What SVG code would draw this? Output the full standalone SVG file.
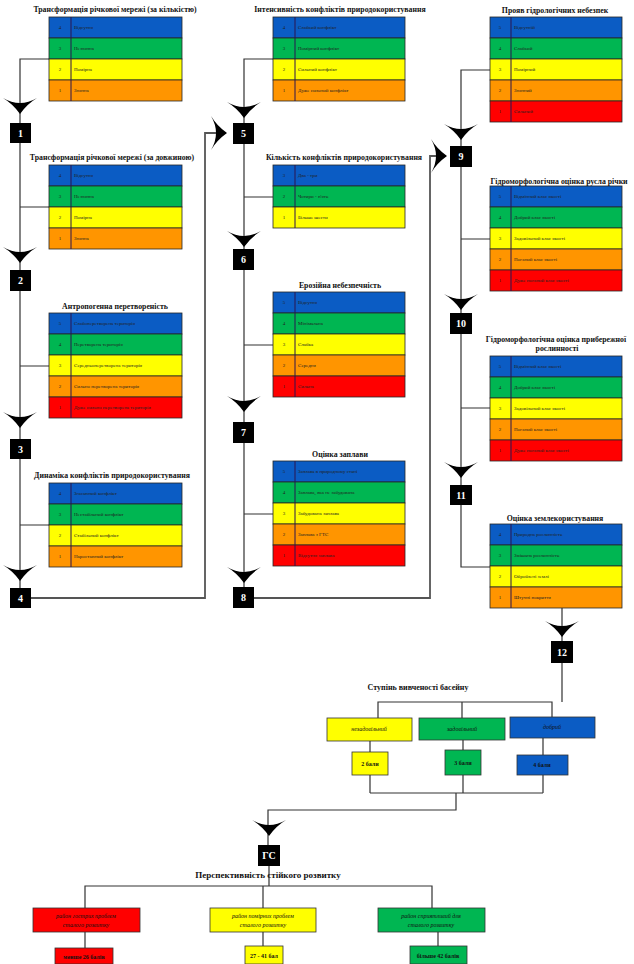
<svg xmlns="http://www.w3.org/2000/svg" xmlns:xlink="http://www.w3.org/1999/xlink" width="634" height="964" viewBox="0 0 634 964">
<style>
.b{fill:#0b5cc4}.g{fill:#00b652}.y{fill:#ffff00}.o{fill:#ff9500}.r{fill:#ff0000}
.row{stroke:#262626;stroke-width:0.8}
.div{stroke:#2a1450;stroke-width:1}
.h{font-family:"Liberation Serif",serif;font-weight:bold;font-size:7.8px;fill:#111;text-anchor:middle}
.n{font-family:"Liberation Serif",serif;font-size:5px;fill:#222;text-anchor:middle}
.t{font-family:"Liberation Serif",serif;font-size:5px;fill:#222}
.box{fill:#000}
.bn{font-family:"Liberation Serif",serif;font-weight:bold;font-size:10px;fill:#fff;text-anchor:middle}
.ln{fill:none;stroke:#333;stroke-width:1.2}
.lg{fill:none;stroke:#555;stroke-width:1.8}
.cat{font-family:"Liberation Serif",serif;font-style:italic;font-size:6px;fill:#111;text-anchor:middle}
.sb{font-family:"Liberation Serif",serif;font-weight:bold;font-size:6px;fill:#111;text-anchor:middle}
.cb{stroke:#333;stroke-width:0.8}
</style>
<defs>
<path id="ad" d="M-17,0 Q0,10 17,0 Q7,6 0,16 Q-7,6 -17,0Z" fill="#000"/>
<path id="ar" d="M0,-17 Q10,0 0,17 Q6,7 16,0 Q6,-7 0,-17Z" fill="#000"/>
</defs>

<g id="connectors">
<path class="ln" d="M49,59 H20 V588 M49,207 H20 M49,366 H20 M49,525 H20"/>
<path class="lg" d="M31,598 H205 V133 H226"/>
<path class="ln" d="M273,59 H244 V587 M273,197 H244 M273,345 H244 M273,514 H244"/>
<path class="lg" d="M254,598 H430 V156 H446"/>
<path class="ln" d="M490,70 H461 V485 M490,239 H461 M490,408 H461 M461,505 V567 H490"/>
<path class="ln" d="M562,608 V641 M562,663 V702 M378,718 V702 H552 V717 M462,702 V718"/>
<path class="ln" d="M370,741 V752 M463,740 V750 M543,738 V755 M370,775 V793 M463,775 V793 M543,775 V793 M370,793 H543 M456,793 V810 H268 V845"/>
<path class="ln" d="M269,866 V886 M85,908 V886 H432 V908 M263,886 V908 M85,932 V948 M263,932 V946 M438,932 V946"/>
<use xlink:href="#ad" x="20" y="98"/>
<use xlink:href="#ad" x="20" y="247"/>
<use xlink:href="#ad" x="20" y="412"/>
<use xlink:href="#ad" x="20" y="565"/>
<use xlink:href="#ad" x="244" y="102"/>
<use xlink:href="#ad" x="244" y="231"/>
<use xlink:href="#ad" x="244" y="396"/>
<use xlink:href="#ad" x="244" y="567"/>
<use xlink:href="#ad" x="461" y="124"/>
<use xlink:href="#ad" x="461" y="294"/>
<use xlink:href="#ad" x="461" y="462"/>
<use xlink:href="#ad" x="562" y="621"/>
<use xlink:href="#ad" x="269" y="820"/>
<use xlink:href="#ar" x="211" y="133"/>
<use xlink:href="#ar" x="431" y="156"/>
</g>

<!-- column 1 -->
<g id="t1">
<text class="h" x="115" y="12">Трансформація річкової мережі (за кількістю)</text>
<rect class="b row" x="49" y="17" width="133" height="21"/><rect class="g row" x="49" y="38" width="133" height="21"/><rect class="y row" x="49" y="59" width="133" height="21"/><rect class="o row" x="49" y="80" width="133" height="21"/>
<line class="div" x1="71" y1="17" x2="71" y2="101"/>
<text class="n" x="60" y="29">4</text><text class="t" x="74" y="29">Відсутня</text>
<text class="n" x="60" y="50">3</text><text class="t" x="74" y="50">Незначна</text>
<text class="n" x="60" y="71">2</text><text class="t" x="74" y="71">Помірна</text>
<text class="n" x="60" y="92">1</text><text class="t" x="74" y="92">Значна</text>
</g>
<g id="t2">
<text class="h" x="112" y="160">Трансформація річкової мережі (за довжиною)</text>
<rect class="b row" x="49" y="165" width="133" height="21"/><rect class="g row" x="49" y="186" width="133" height="21"/><rect class="y row" x="49" y="207" width="133" height="21"/><rect class="o row" x="49" y="228" width="133" height="21"/>
<line class="div" x1="71" y1="165" x2="71" y2="249"/>
<text class="n" x="60" y="177">4</text><text class="t" x="74" y="177">Відсутня</text>
<text class="n" x="60" y="198">3</text><text class="t" x="74" y="198">Незначна</text>
<text class="n" x="60" y="219">2</text><text class="t" x="74" y="219">Помірна</text>
<text class="n" x="60" y="240">1</text><text class="t" x="74" y="240">Значна</text>
</g>
<g id="t3">
<text class="h" x="115" y="309">Антропогенна перетвореність</text>
<rect class="b row" x="49" y="313" width="133" height="21"/><rect class="g row" x="49" y="334" width="133" height="21"/><rect class="y row" x="49" y="355" width="133" height="21"/><rect class="o row" x="49" y="376" width="133" height="21"/><rect class="r row" x="49" y="397" width="133" height="21"/>
<line class="div" x1="71" y1="313" x2="71" y2="418"/>
<text class="n" x="60" y="325">5</text><text class="t" x="74" y="325">Слабоперетворена територія</text>
<text class="n" x="60" y="346">4</text><text class="t" x="74" y="346">Перетворена територія</text>
<text class="n" x="60" y="367">3</text><text class="t" x="74" y="367">Середньоперетворена територія</text>
<text class="n" x="60" y="388">2</text><text class="t" x="74" y="388">Сильно перетворена територія</text>
<text class="n" x="60" y="409">1</text><text class="t" x="74" y="409">Дуже сильно перетворена територія</text>
</g>
<g id="t4">
<text class="h" x="112" y="478">Динаміка конфліктів природокористування</text>
<rect class="b row" x="49" y="483" width="133" height="21"/><rect class="g row" x="49" y="504" width="133" height="21"/><rect class="y row" x="49" y="525" width="133" height="21"/><rect class="o row" x="49" y="546" width="133" height="21"/>
<line class="div" x1="71" y1="483" x2="71" y2="567"/>
<text class="n" x="60" y="495">4</text><text class="t" x="74" y="495">Згасаючий конфлікт</text>
<text class="n" x="60" y="516">3</text><text class="t" x="74" y="516">Нестабільний конфлікт</text>
<text class="n" x="60" y="537">2</text><text class="t" x="74" y="537">Стабільний конфлікт</text>
<text class="n" x="60" y="558">1</text><text class="t" x="74" y="558">Наростаючий конфлікт</text>
</g>

<!-- column 2 -->
<g id="t5">
<text class="h" x="340" y="12">Інтенсивність конфліктів природокористування</text>
<rect class="b row" x="273" y="17" width="132" height="21"/><rect class="g row" x="273" y="38" width="132" height="21"/><rect class="y row" x="273" y="59" width="132" height="21"/><rect class="o row" x="273" y="80" width="132" height="21"/>
<line class="div" x1="295" y1="17" x2="295" y2="101"/>
<text class="n" x="284" y="29">4</text><text class="t" x="298" y="29">Слабкий конфлікт</text>
<text class="n" x="284" y="50">3</text><text class="t" x="298" y="50">Помірний конфлікт</text>
<text class="n" x="284" y="71">2</text><text class="t" x="298" y="71">Сильний конфлікт</text>
<text class="n" x="284" y="92">1</text><text class="t" x="298" y="92">Дуже сильний конфлікт</text>
</g>
<g id="t6">
<text class="h" x="344" y="160">Кількість конфліктів природокористування</text>
<rect class="b row" x="273" y="165" width="132" height="21"/><rect class="g row" x="273" y="186" width="132" height="21"/><rect class="y row" x="273" y="207" width="132" height="21"/>
<line class="div" x1="295" y1="165" x2="295" y2="228"/>
<text class="n" x="284" y="177">3</text><text class="t" x="298" y="177">Два - три</text>
<text class="n" x="284" y="198">2</text><text class="t" x="298" y="198">Чотири - п'ять</text>
<text class="n" x="284" y="219">1</text><text class="t" x="298" y="219">Більше шести</text>
</g>
<g id="t7">
<text class="h" x="340" y="288">Ерозійна небезпечність</text>
<rect class="b row" x="273" y="292" width="132" height="21"/><rect class="g row" x="273" y="313" width="132" height="21"/><rect class="y row" x="273" y="334" width="132" height="21"/><rect class="o row" x="273" y="355" width="132" height="21"/><rect class="r row" x="273" y="376" width="132" height="21"/>
<line class="div" x1="295" y1="292" x2="295" y2="397"/>
<text class="n" x="284" y="304">5</text><text class="t" x="298" y="304">Відсутня</text>
<text class="n" x="284" y="325">4</text><text class="t" x="298" y="325">Мінімальна</text>
<text class="n" x="284" y="346">3</text><text class="t" x="298" y="346">Слабка</text>
<text class="n" x="284" y="367">2</text><text class="t" x="298" y="367">Середня</text>
<text class="n" x="284" y="388">1</text><text class="t" x="298" y="388">Сильна</text>
</g>
<g id="t8">
<text class="h" x="340" y="457">Оцінка заплави</text>
<rect class="b row" x="273" y="461" width="132" height="21"/><rect class="g row" x="273" y="482" width="132" height="21"/><rect class="y row" x="273" y="503" width="132" height="21"/><rect class="o row" x="273" y="524" width="132" height="21"/><rect class="r row" x="273" y="545" width="132" height="21"/>
<line class="div" x1="295" y1="461" x2="295" y2="566"/>
<text class="n" x="284" y="473">5</text><text class="t" x="298" y="473">Заплава в природному стані</text>
<text class="n" x="284" y="494">4</text><text class="t" x="298" y="494">Заплава, яка не забудована</text>
<text class="n" x="284" y="515">3</text><text class="t" x="298" y="515">Забудована заплава</text>
<text class="n" x="284" y="536">2</text><text class="t" x="298" y="536">Заплава з ГТС</text>
<text class="n" x="284" y="557">1</text><text class="t" x="298" y="557">Відсутня заплава</text>
</g>

<!-- column 3 -->
<g id="t9">
<text class="h" x="555" y="13">Прояв гідрологічних небезпек</text>
<rect class="b row" x="490" y="17" width="132" height="21"/><rect class="g row" x="490" y="38" width="132" height="21"/><rect class="y row" x="490" y="59" width="132" height="21"/><rect class="o row" x="490" y="80" width="132" height="21"/><rect class="r row" x="490" y="101" width="132" height="21"/>
<line class="div" x1="511" y1="17" x2="511" y2="122"/>
<text class="n" x="500" y="29">5</text><text class="t" x="514" y="29">Відсутній</text>
<text class="n" x="500" y="50">4</text><text class="t" x="514" y="50">Слабкий</text>
<text class="n" x="500" y="71">3</text><text class="t" x="514" y="71">Помірний</text>
<text class="n" x="500" y="92">2</text><text class="t" x="514" y="92">Значний</text>
<text class="n" x="500" y="113">1</text><text class="t" x="514" y="113">Сильний</text>
</g>
<g id="t10">
<text class="h" x="559" y="184">Гідроморфологічна оцінка русла річки</text>
<rect class="b row" x="490" y="186" width="132" height="21"/><rect class="g row" x="490" y="207" width="132" height="21"/><rect class="y row" x="490" y="228" width="132" height="21"/><rect class="o row" x="490" y="249" width="132" height="21"/><rect class="r row" x="490" y="270" width="132" height="21"/>
<line class="div" x1="511" y1="186" x2="511" y2="291"/>
<text class="n" x="500" y="198">5</text><text class="t" x="514" y="198">Відмінний клас якості</text>
<text class="n" x="500" y="219">4</text><text class="t" x="514" y="219">Добрий клас якості</text>
<text class="n" x="500" y="240">3</text><text class="t" x="514" y="240">Задовільний клас якості</text>
<text class="n" x="500" y="261">2</text><text class="t" x="514" y="261">Поганий клас якості</text>
<text class="n" x="500" y="282">1</text><text class="t" x="514" y="282">Дуже поганий клас якості</text>
</g>
<g id="t11">
<text class="h" x="556" y="342">Гідроморфологічна оцінка прибережної</text>
<text class="h" x="557" y="351">рослинності</text>
<rect class="b row" x="490" y="356" width="132" height="21"/><rect class="g row" x="490" y="377" width="132" height="21"/><rect class="y row" x="490" y="398" width="132" height="21"/><rect class="o row" x="490" y="419" width="132" height="21"/><rect class="r row" x="490" y="440" width="132" height="21"/>
<line class="div" x1="511" y1="356" x2="511" y2="461"/>
<text class="n" x="500" y="368">5</text><text class="t" x="514" y="368">Відмінний клас якості</text>
<text class="n" x="500" y="389">4</text><text class="t" x="514" y="389">Добрий клас якості</text>
<text class="n" x="500" y="410">3</text><text class="t" x="514" y="410">Задовільний клас якості</text>
<text class="n" x="500" y="431">2</text><text class="t" x="514" y="431">Поганий клас якості</text>
<text class="n" x="500" y="452">1</text><text class="t" x="514" y="452">Дуже поганий клас якості</text>
</g>
<g id="t12">
<text class="h" x="555" y="521">Оцінка землекористування</text>
<rect class="b row" x="490" y="524" width="132" height="21"/><rect class="g row" x="490" y="545" width="132" height="21"/><rect class="y row" x="490" y="566" width="132" height="21"/><rect class="o row" x="490" y="587" width="132" height="21"/>
<line class="div" x1="511" y1="524" x2="511" y2="608"/>
<text class="n" x="500" y="536">4</text><text class="t" x="514" y="536">Природна рослинність</text>
<text class="n" x="500" y="557">3</text><text class="t" x="514" y="557">Змішана рослинність</text>
<text class="n" x="500" y="578">2</text><text class="t" x="514" y="578">Оброблені землі</text>
<text class="n" x="500" y="599">1</text><text class="t" x="514" y="599">Штучні покриття</text>
</g>

<!-- numbered nodes -->
<g id="n1"><rect class="box" x="10" y="123" width="21" height="20"/><text class="bn" x="20.5" y="137">1</text></g>
<g id="n2"><rect class="box" x="10" y="270" width="21" height="21"/><text class="bn" x="20.5" y="284">2</text></g>
<g id="n3"><rect class="box" x="10" y="439" width="21" height="20"/><text class="bn" x="20.5" y="453">3</text></g>
<g id="n4"><rect class="box" x="10" y="588" width="21" height="20"/><text class="bn" x="20.5" y="602">4</text></g>
<g id="n5"><rect class="box" x="233" y="123" width="21" height="21"/><text class="bn" x="243.5" y="137">5</text></g>
<g id="n6"><rect class="box" x="233" y="249" width="21" height="21"/><text class="bn" x="243.5" y="263">6</text></g>
<g id="n7"><rect class="box" x="233" y="422" width="21" height="21"/><text class="bn" x="243.5" y="436">7</text></g>
<g id="n8"><rect class="box" x="233" y="587" width="21" height="21"/><text class="bn" x="243.5" y="601">8</text></g>
<g id="n9"><rect class="box" x="450" y="146" width="22" height="21"/><text class="bn" x="461" y="160">9</text></g>
<g id="n10"><rect class="box" x="450" y="313" width="22" height="21"/><text class="bn" x="461" y="327">10</text></g>
<g id="n11"><rect class="box" x="450" y="485" width="22" height="20"/><text class="bn" x="461" y="499">11</text></g>
<g id="n12"><rect class="box" x="551" y="641" width="22" height="22"/><text class="bn" x="562" y="656">12</text></g>

<!-- basin study degree -->
<g id="study">
<text class="h" x="418" y="690" style="font-size:8px">Ступінь вивченості басейну</text>
<rect class="y cb" x="327" y="718" width="85" height="23"/><text class="cat" x="369" y="731">незадовільний</text>
<rect class="g cb" x="419" y="718" width="86" height="22"/><text class="cat" x="462" y="731">задовільний</text>
<rect class="b cb" x="510" y="717" width="85" height="21"/><text class="cat" x="552" y="729">добрий</text>
<rect class="y cb" x="352" y="752" width="36" height="23"/><text class="sb" x="370" y="766">2 бали</text>
<rect class="g cb" x="445" y="750" width="36" height="25"/><text class="sb" x="463" y="765">3 бали</text>
<rect class="b cb" x="517" y="755" width="51" height="20"/><text class="sb" x="542" y="767">4 бали</text>
</g>

<g id="gs"><rect class="box" x="258" y="845" width="22" height="21"/><text class="bn" x="269" y="859">ГС</text></g>

<g id="persp">
<text class="h" x="268" y="878" style="font-size:9px">Перспективність стійкого розвитку</text>
<rect class="r cb" x="33" y="908" width="107" height="24"/><text class="cat" x="86" y="918">район гострих проблем</text><text class="cat" x="86" y="927">сталого розвитку</text>
<rect class="y cb" x="210" y="908" width="106" height="24"/><text class="cat" x="263" y="918">район помірних проблем</text><text class="cat" x="263" y="927">сталого розвитку</text>
<rect class="g cb" x="378" y="908" width="107" height="24"/><text class="cat" x="431" y="918">район сприятливий для</text><text class="cat" x="431" y="927">сталого розвитку</text>
<rect class="r cb" x="55" y="948" width="58" height="16"/><text class="sb" x="84" y="959">менше 26 балів</text>
<rect class="y cb" x="245" y="946" width="38" height="18"/><text class="sb" x="264" y="958">27 - 41 бал</text>
<rect class="g cb" x="410" y="946" width="57" height="18"/><text class="sb" x="438" y="958">більше 42 балів</text>
</g>
</svg>
